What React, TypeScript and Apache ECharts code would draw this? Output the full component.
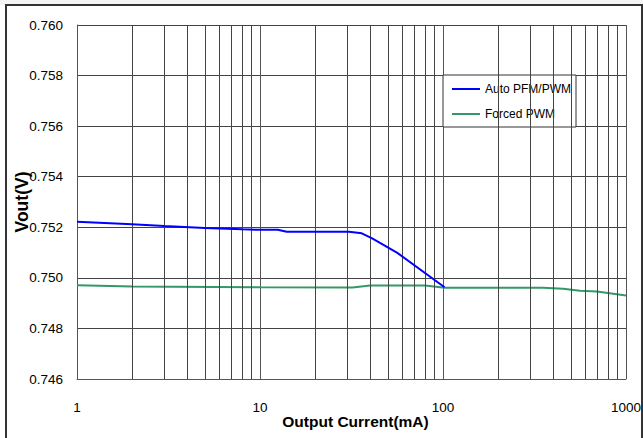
import React, { useEffect, useRef } from "react";
import * as echarts from "echarts";

const xTickLabels = ["1", "10", "100", "1000"];
const decades = [1, 10, 100];
const minorMultipliers = [2, 3, 4, 5, 6, 7, 8, 9];

const autoCurrent = [1, 2, 3, 5, 8, 10, 12.5, 14, 20, 30.6, 36, 41, 56, 102];
const autoVout = [0.75222, 0.75212, 0.75205, 0.75197, 0.75192, 0.7519, 0.7519, 0.75182, 0.75182, 0.75182, 0.75176, 0.75156, 0.751, 0.74963];

const forcedCurrent = [1, 2, 10, 32, 40, 80, 102, 352, 453, 561, 693, 1000];
const forcedVout = [0.74971, 0.74966, 0.74963, 0.74962, 0.7497, 0.7497, 0.74961, 0.74961, 0.74957, 0.74949, 0.74946, 0.7493];

const seriesNames = ["Auto PFM/PWM", "Forced PWM"];
const FONT = "Liberation Sans, Arial, sans-serif";

export default function App() {
  const ref = useRef<HTMLDivElement>(null);
  useEffect(() => {
    if (!ref.current) return;
    const chart = echarts.init(ref.current, null, { renderer: "svg" });
    const minorLines: any[] = [];
    decades.forEach((d) => minorMultipliers.forEach((m) => minorLines.push({ xAxis: d * m })));
    chart.setOption({
      animation: false,
      backgroundColor: "#ffffff",
      textStyle: { fontFamily: FONT },
      grid: { left: 77, right: 17, top: 25, bottom: 59, containLabel: false, outerBoundsMode: "none" },
      graphic: [
        { type: "rect", shape: { x: 0, y: 0, width: 643, height: 5 }, style: { fill: "#f4f4f4" }, silent: true },
        { type: "rect", shape: { x: 6, y: 5, width: 636, height: 440 }, style: { fill: "none", stroke: "#333", lineWidth: 2 }, silent: true },
      ],
      legend: {
        left: 443,
        top: 75,
        orient: "vertical",
        padding: [8, 5, 7, 9],
        itemGap: 13,
        itemWidth: 28,
        itemHeight: 2,
        itemTextGap: 2,
        icon: "rect",
        borderColor: "#333",
        borderWidth: 1,
        borderRadius: 0,
        backgroundColor: "#ffffff",
        data: seriesNames,
        textStyle: { fontFamily: FONT, fontSize: 12, color: "#000" },
      },
      xAxis: {
        type: "log",
        logBase: 10,
        min: 1,
        max: 1000,
        name: "Output Current(mA)",
        nameLocation: "middle",
        nameGap: 34,
        nameMoveOverlap: false,
        nameTextStyle: { fontFamily: FONT, fontSize: 15.5, fontWeight: "bold", color: "#000", padding: [0, 0, 0, 8] },
        axisLine: { show: true, lineStyle: { color: "#555", width: 1 } },
        axisTick: { show: false },
        axisLabel: {
          margin: 21,
          fontFamily: FONT,
          fontSize: 13.5,
          color: "#000",
          formatter: (v: number) => {
            const s = String(Math.round(v));
            return xTickLabels.includes(s) ? s : "";
          },
        },
        splitLine: { show: true, lineStyle: { color: "#555", width: 1 } },
      },
      yAxis: {
        type: "value",
        min: 0.746,
        max: 0.76,
        interval: 0.002,
        name: "Vout(V)",
        nameLocation: "middle",
        nameGap: 46,
        nameMoveOverlap: false,
        nameTextStyle: { fontFamily: FONT, fontSize: 17.5, fontWeight: "bold", color: "#000" },
        axisLine: { show: true, lineStyle: { color: "#555", width: 1 } },
        axisTick: { show: false },
        axisLabel: {
          margin: 14,
          fontFamily: FONT,
          fontSize: 13.5,
          color: "#000",
          formatter: (v: number) => v.toFixed(3),
        },
        splitLine: { show: true, lineStyle: { color: "#444", width: 1 } },
      },
      series: [
        {
          name: "grid",
          type: "line",
          data: [],
          silent: true,
          z: 1,
          markLine: {
            silent: true,
            symbol: ["none", "none"],
            label: { show: false },
            lineStyle: { type: "solid", color: "#444", width: 1 },
            data: minorLines,
          },
        },
        {
          name: seriesNames[0],
          type: "line",
          showSymbol: false,
          symbol: "none",
          z: 5,
          lineStyle: { color: "#0000ff", width: 2 },
          itemStyle: { color: "#0000ff" },
          data: autoCurrent.map((x, i) => [x, autoVout[i]]),
        },
        {
          name: seriesNames[1],
          type: "line",
          showSymbol: false,
          symbol: "none",
          z: 4,
          lineStyle: { color: "#339966", width: 2 },
          itemStyle: { color: "#339966" },
          data: forcedCurrent.map((x, i) => [x, forcedVout[i]]),
        },
      ],
    });
    return () => chart.dispose();
  }, []);
  return <div ref={ref} style={{ width: 643, height: 438, position: "fixed", left: 0, top: 0 }} />;
}
